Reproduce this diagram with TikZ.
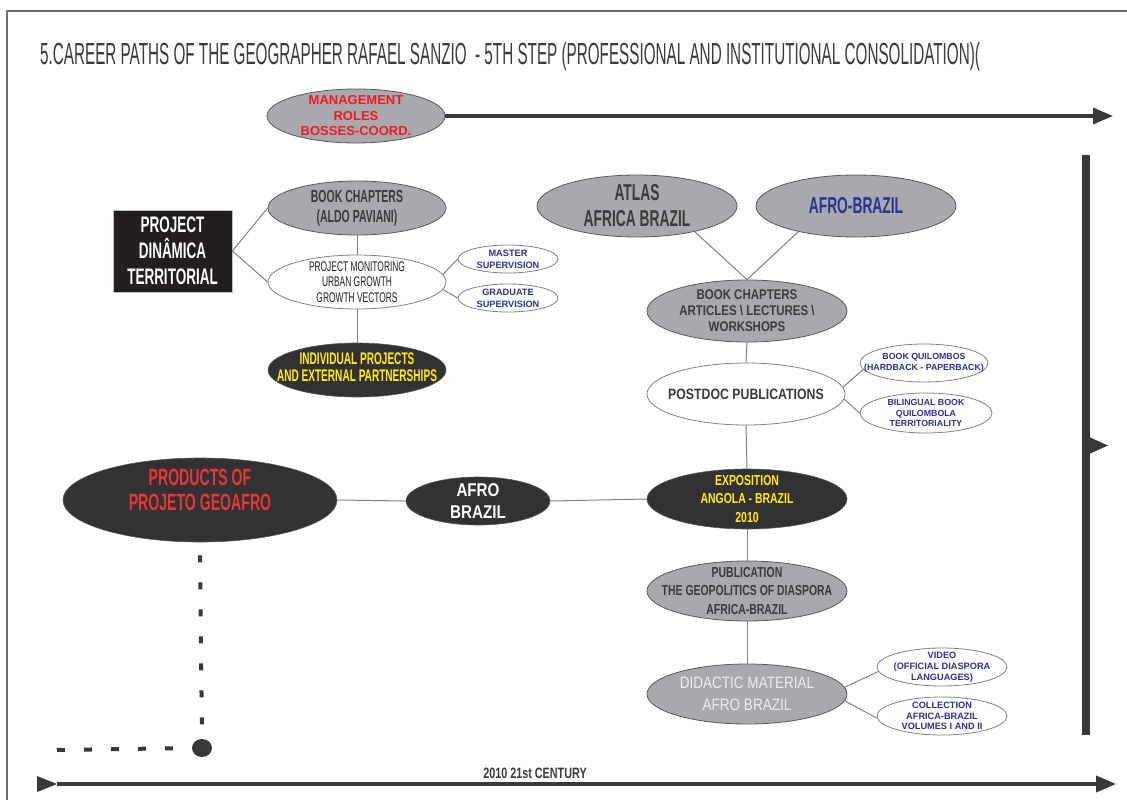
\documentclass[tikz,border=0pt]{standalone}
\usepackage{fontspec}
\setmainfont{Liberation Sans}
\newfontfamily\ftitle{Liberation Sans}[FakeStretch=0.5]
\newfontfamily\fcond{Liberation Sans}[FakeStretch=0.6]
\newfontfamily\fsemi{Liberation Sans}[FakeStretch=0.72]
\newfontfamily\fwide{Liberation Sans}[FakeStretch=0.82]
\usetikzlibrary{shapes.geometric,arrows.meta}
\definecolor{gfill}{HTML}{A7A9AC}
\definecolor{gline}{HTML}{58595B}
\definecolor{dfill}{HTML}{333132}
\definecolor{boxfill}{HTML}{231F20}
\definecolor{cline}{HTML}{808285}
\definecolor{tline}{HTML}{3A3839}
\definecolor{ytext}{HTML}{FFF200}
\definecolor{rtext}{HTML}{ED1C24}
\definecolor{prodred}{HTML}{E5383D}
\definecolor{btext}{HTML}{2E3192}
\definecolor{dtext}{HTML}{3C3B3C}
\definecolor{ktext}{HTML}{231F20}
\definecolor{ltext}{HTML}{ECEDEE}
\definecolor{framec}{HTML}{6D6E71}
\newcommand\fsz[2]{\fontsize{#1}{#2}\selectfont}
\begin{document}
\begin{tikzpicture}[x=1pt,y=-1pt,
  ell/.style 2 args={ellipse, inner sep=0pt, minimum width=#1pt, minimum height=#2pt},
  grayell/.style={draw=gline, line width=0.8pt, fill=gfill},
  whiteell/.style={draw=cline, line width=0.8pt, fill=white},
  darkell/.style={draw=gline, line width=0.6pt, fill=dfill},
  lbl/.style={inner sep=0pt, align=center},
  conn/.style={draw=cline, line width=1pt},
  tl/.style={draw=tline, line width=3.5pt},
  tip/.style={-{Triangle[length=20pt,width=16pt]}}
]
\fill[white] (0,0) rectangle (1127,800);
\useasboundingbox (0,0) rectangle (1127,800);
\draw[framec, line width=1.2pt] (7,800) -- (7,11) -- (1127,11);

% title
\node[anchor=base west, inner sep=0pt, font=\ftitle\fsz{30.5}{32}, text=dtext] (title) at (40,64)
  {5.CAREER PATHS OF THE GEOGRAPHER RAFAEL SANZIO\ \ - 5TH STEP (PROFESSIONAL AND INSTITUTIONAL CONSOLIDATION)(};

% management
\node[ell={178}{54}, grayell, label={[lbl, font=\bfseries\fsz{13}{15.5}, text=rtext]center:{MANAGEMENT\\ROLES\\BOSSES-COORD.}}] (mgmt) at (356,116) {};
\coordinate (topend) at (1113,116);
\draw[tl, tip] (mgmt.east) -- (topend);

% left cluster
\node[draw=gray!50, line width=0.8pt, fill=boxfill, minimum width=119pt, minimum height=82pt, inner sep=0pt, align=center, text=white, font=\fcond\bfseries\fsz{22.5}{26}] (pdt) at (172.5,251) {PROJECT\\DINÂMICA\\TERRITORIAL};
\node[ell={178}{54}, grayell, label={[lbl, font=\fcond\bfseries\fsz{17.5}{20}, text=dtext]center:{BOOK CHAPTERS\\(ALDO PAVIANI)}}] (bc) at (357,208) {};
\node[ell={178}{54}, whiteell, label={[lbl, font=\fcond\fsz{14}{15.5}, text=ktext]center:{PROJECT MONITORING\\URBAN GROWTH\\GROWTH VECTORS}}] (pm) at (357,282) {};
\node[ell={178}{54}, darkell, label={[lbl, yshift=3pt, font=\fcond\bfseries\fsz{16.8}{17}, text=ytext]center:{INDIVIDUAL PROJECTS\\AND EXTERNAL PARTNERSHIPS}}] (ind) at (357,370) {};
\node[ell={100}{28}, whiteell, label={[lbl, font=\bfseries\fsz{9.2}{12}, text=btext]center:{MASTER\\SUPERVISION}}] (master) at (508,259) {};
\node[ell={100}{28}, whiteell, label={[lbl, font=\bfseries\fsz{9.2}{12}, text=btext]center:{GRADUATE\\SUPERVISION}}] (grad) at (508,298) {};

\draw[conn] (pdt.east) -- (bc.west);
\draw[conn] (pdt.east) -- (pm.west);
\draw[conn] (bc.south) -- (pm.north);
\draw[conn] (pm.south) -- (ind.north);
\draw[conn] (pm.5) -- (master.west);
\draw[conn] (pm.-5) -- (grad.west);

% right cluster
\node[ell={200}{62}, grayell, label={[lbl, font=\fcond\bfseries\fsz{23}{26}, text=dtext]center:{ATLAS\\AFRICA BRAZIL}}] (atlas) at (637,206) {};
\node[ell={200}{62}, grayell, label={[lbl, font=\fcond\bfseries\fsz{23}{26}, text=btext]center:{AFRO-BRAZIL}}] (afrob) at (856,206) {};
\node[ell={200}{62}, grayell, label={[lbl, font=\fwide\bfseries\fsz{14}{16}, text=dtext]center:{BOOK CHAPTERS\\ARTICLES \textbackslash{} LECTURES \textbackslash\\WORKSHOPS}}] (bca) at (747,311) {};
\node[ell={198}{62}, whiteell, label={[lbl, font=\fwide\bfseries\fsz{15}{17}, text=dtext]center:{POSTDOC PUBLICATIONS}}] (pd) at (746,394) {};
\node[ell={128}{38}, whiteell, label={[lbl, font=\bfseries\fsz{8.8}{11}, text=btext]center:{BOOK QUILOMBOS\\(HARDBACK - PAPERBACK)}}] (quil) at (924,363) {};
\node[ell={132}{40}, whiteell, label={[lbl, font=\bfseries\fsz{8.8}{10.5}, text=btext]center:{BILINGUAL BOOK\\QUILOMBOLA\\TERRITORIALITY}}] (bil) at (926,413) {};
\node[ell={200}{60}, darkell, label={[lbl, font=\fsemi\bfseries\fsz{14.5}{18.5}, text=ytext]center:{EXPOSITION\\ANGOLA - BRAZIL\\2010}}] (expo) at (747,499) {};
\node[ell={200}{60}, grayell, label={[lbl, font=\fsemi\bfseries\fsz{14.5}{18.5}, text=dtext]center:{PUBLICATION\\THE GEOPOLITICS OF DIASPORA\\AFRICA-BRAZIL}}] (pub) at (747,591) {};
\node[ell={200}{60}, grayell, label={[lbl, font=\fwide\fsz{16.5}{22}, text=ltext]center:{DIDACTIC MATERIAL\\AFRO BRAZIL}}] (did) at (747,694) {};
\node[ell={130}{38}, whiteell, label={[lbl, font=\bfseries\fsz{9.2}{10.8}, text=btext]center:{VIDEO\\(OFFICIAL DIASPORA\\LANGUAGES)}}] (video) at (942,667) {};
\node[ell={130}{38}, whiteell, label={[lbl, font=\bfseries\fsz{9.2}{10.5}, text=btext]center:{COLLECTION\\AFRICA-BRAZIL\\VOLUMES I AND II}}] (coll) at (942,716) {};

\draw[conn] (atlas.-24) -- (bca.north);
\draw[conn] (afrob.204) -- (bca.north);
\draw[conn] (bca.south) -- (pd.north);
\draw[conn] (pd.4) -- (quil.186);
\draw[conn] (pd.-3) -- (bil.west);
\draw[conn] (pd.south) -- (expo.north);
\draw[conn] (expo.south) -- (pub.north);
\draw[conn] (pub.south) -- (did.north);
\draw[conn] (did.4) -- (video.184);
\draw[conn] (did.-4) -- (coll.182);

% bottom-left cluster
\node[ell={274}{84}, darkell, label={[lbl, yshift=10.5pt, font=\fcond\bfseries\fsz{23.5}{25}, text=prodred]center:{PRODUCTS OF\\PROJETO GEOAFRO}}] (prod) at (200,500) {};
\node[ell={144}{48}, darkell, label={[lbl, font=\fwide\bfseries\fsz{18.5}{22}, text=white]center:{AFRO\\BRAZIL}}] (afro2) at (478,501) {};
\draw[conn] (prod.east) -- (afro2.west);
\draw[conn] (afro2.east) -- (expo.west);

% dotted path
\node[ellipse, fill=tline, minimum width=20pt, minimum height=18pt, inner sep=0pt] (dot) at (202,748) {};
\coordinate (dstart) at (57,750);
\draw[tline, line width=4pt, dash pattern=on 7pt off 20pt] ([yshift=-13pt]prod.south) -- (dot.north);
\draw[tline, line width=4pt, dash pattern=on 8pt off 19pt] (dstart) -- (dot.west);

% right vertical bar
\coordinate (rbtop) at (1086,155);
\coordinate (rbbot) at (1086,735);
\draw[tline, line width=8pt] (rbtop) -- (rbbot);
\fill[tline] (1089,437) -- (1108,445.5) -- (1089,454) -- cycle;

% bottom timeline
\coordinate (bstart) at (57,784);
\coordinate (bend) at (1116,784);
\draw[tl, tip] (bstart) -- (bend);
\fill[tline] (37,776) -- (57,784) -- (37,792) -- cycle;
\node[inner sep=0pt, font=\fsemi\bfseries\fsz{15}{16}, text=dtext] (century) at (535,773) {2010 21st CENTURY};
\end{tikzpicture}
\end{document}
